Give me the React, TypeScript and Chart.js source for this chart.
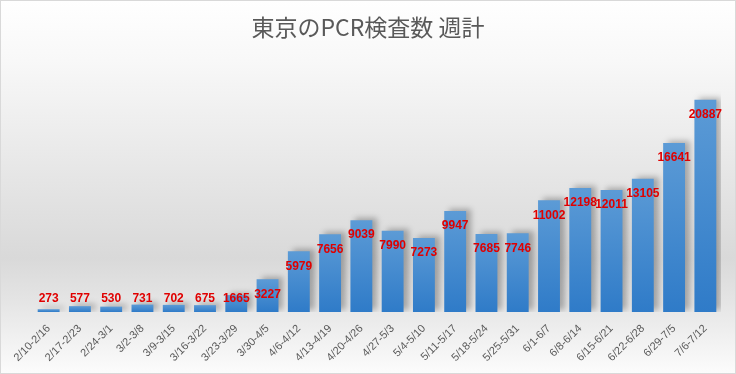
import React, { useEffect, useRef } from "react";
import { Chart, registerables } from "chart.js";

Chart.register(...registerables);

const TITLE = "東京のPCR検査数 週計";
const weeks = [
  "2/10-2/16", "2/17-2/23", "2/24-3/1", "3/2-3/8", "3/9-3/15", "3/16-3/22",
  "3/23-3/29", "3/30-4/5", "4/6-4/12", "4/13-4/19", "4/20-4/26", "4/27-5/3",
  "5/4-5/10", "5/11-5/17", "5/18-5/24", "5/25-5/31", "6/1-6/7", "6/8-6/14",
  "6/15-6/21", "6/22-6/28", "6/29-7/5", "7/6-7/12",
];
const tests = [
  273, 577, 530, 731, 702, 675, 1665, 3227, 5979, 7656, 9039, 7990,
  7273, 9947, 7685, 7746, 11002, 12198, 12011, 13105, 16641, 20887,
];
const yMax = 25000;

const backgroundPlugin = {
  id: "bgPlugin",
  beforeDraw(chart: any) {
    const { ctx, width, height } = chart;
    ctx.save();
    const g = ctx.createLinearGradient(0, 0, 0, height);
    g.addColorStop(0, "#ffffff");
    g.addColorStop(0.16, "#f8f8f8");
    g.addColorStop(0.69, "#d9d9d9");
    g.addColorStop(0.8, "#e4e4e4");
    g.addColorStop(1, "#fcfcfc");
    ctx.fillStyle = g;
    ctx.fillRect(0, 0, width, height);
    ctx.strokeStyle = "#d9d9d9";
    ctx.lineWidth = 1;
    ctx.strokeRect(0.5, 0.5, width - 1, height - 1);
    ctx.font = "23px 'Noto Sans CJK JP', sans-serif";
    ctx.fillStyle = "#595959";
    ctx.textAlign = "center";
    ctx.textBaseline = "middle";
    ctx.fillText(TITLE, width / 2, 27);
    ctx.restore();
  },
};

const shadowPlugin = {
  id: "shadowPlugin",
  beforeDatasetDraw(chart: any) {
    const ctx = chart.ctx;
    ctx.save();
    ctx.shadowColor = "rgba(0,0,0,0.28)";
    ctx.shadowBlur = 6;
    ctx.shadowOffsetX = 5;
    ctx.shadowOffsetY = -2;
  },
  afterDatasetDraw(chart: any) {
    chart.ctx.restore();
  },
};

const labelPlugin = {
  id: "labelPlugin",
  afterDatasetsDraw(chart: any) {
    const ctx = chart.ctx;
    const meta = chart.getDatasetMeta(0);
    const data = chart.data.datasets[0].data;
    ctx.save();
    ctx.font = "bold 12px 'Liberation Sans', Arial, sans-serif";
    ctx.fillStyle = "#e00000";
    ctx.textAlign = "center";
    ctx.textBaseline = "middle";
    meta.data.forEach((bar: any, i: number) => {
      const y = Math.min(bar.y + 15, bar.base - 13);
      ctx.fillText(String(data[i]), bar.x, y);
    });
    ctx.restore();
  },
};

export default function App() {
  const ref = useRef<HTMLCanvasElement | null>(null);
  useEffect(() => {
    document.body.style.margin = "0";
    if (!ref.current) return;
    const chart = new Chart(ref.current, {
      type: "bar",
      data: {
        labels: weeks,
        datasets: [
          {
            data: tests,
            categoryPercentage: 1,
            barPercentage: 0.7,
            backgroundColor: (c: any) => {
              const chart = c.chart;
              const ys = chart.scales && chart.scales.y;
              if (!ys || c.parsed == null) return "#3f87cf";
              const top = ys.getPixelForValue(c.parsed.y);
              const bottom = ys.getPixelForValue(0);
              if (!isFinite(top) || !isFinite(bottom) || bottom - top < 1) return "#3f87cf";
              const g = chart.ctx.createLinearGradient(0, top, 0, bottom);
              g.addColorStop(0, "#5c9bd6");
              g.addColorStop(1, "#2f7bc8");
              return g;
            },
          },
        ],
      },
      options: {
        responsive: false,
        animation: false,
        events: [],
        layout: { padding: { left: 33, right: 15, top: 58, bottom: 6 } },
        plugins: {
          legend: { display: false },
          tooltip: { enabled: false },
          title: { display: false },
        },
        scales: {
          x: {
            grid: { display: false },
            border: { display: false },
            ticks: {
              color: "#595959",
              font: { family: "'Liberation Sans', Arial, sans-serif", size: 11 },
              minRotation: 45,
              maxRotation: 45,
              autoSkip: false,
              padding: 2,
            },
            afterFit: (s: any) => {
              s.height = 56;
              s.paddingLeft = 0;
              s.paddingRight = 0;
            },
          },
          y: {
            display: false,
            min: 0,
            max: yMax,
          },
        },
      },
      plugins: [backgroundPlugin, shadowPlugin, labelPlugin],
    } as any);
    return () => chart.destroy();
  }, []);
  return (
    <div style={{ width: 736, height: 374 }}>
      <canvas ref={ref} width={736} height={374} />
    </div>
  );
}
